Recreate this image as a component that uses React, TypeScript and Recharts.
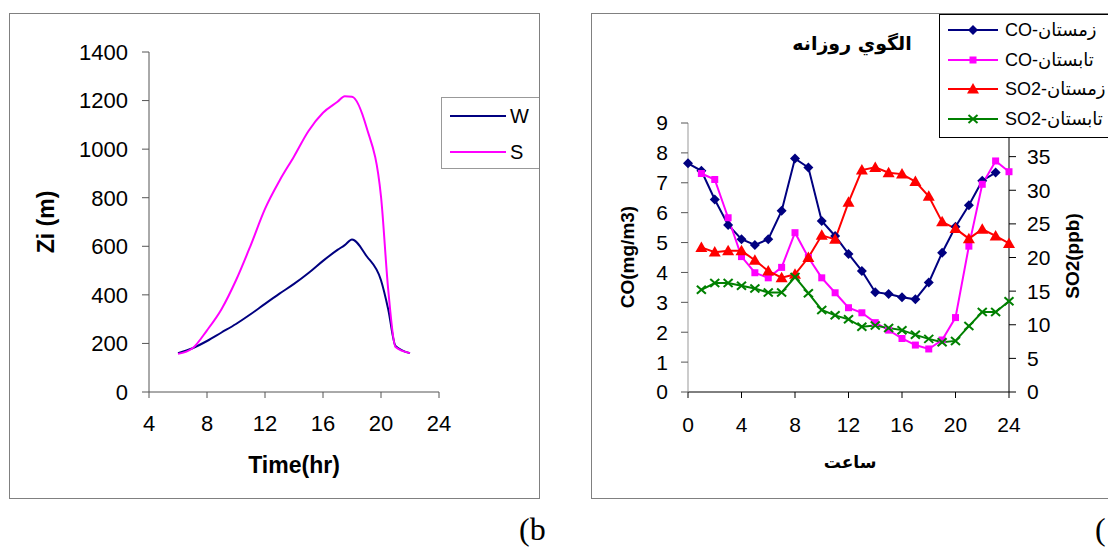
import React from 'react';
import { LineChart, Line, XAxis, YAxis, Legend } from 'recharts';

const FONT = '"Liberation Sans", Arial, "DejaVu Sans", sans-serif';
const NAVY = '#000080';
const MAGENTA = '#FF00FF';
const RED = '#FF0000';
const GREEN = '#008000';

// (b) mixing height Zi, winter vs summer
const ziHours = [6, 7, 8, 9, 10, 11, 12, 13, 14, 15, 16, 17, 17.5, 18, 19, 20, 20.5, 21, 22];
const ziWinter = [160, 180, 210, 245, 280, 320, 363, 405, 445, 490, 540, 585, 605, 628, 560, 460, 340, 190, 160];
const ziSummer = [157, 180, 254, 341, 460, 602, 754, 870, 970, 1075, 1150, 1195, 1218, 1216, 1090, 805, 420, 185, 160];
const ziNames = ['W', 'S'];
const ziTicksX = [4, 8, 12, 16, 20, 24];
const ziTicksY = [0, 200, 400, 600, 800, 1000, 1200, 1400];

// daily pattern of CO and SO2
const hours = [0, 1, 2, 3, 4, 5, 6, 7, 8, 9, 10, 11, 12, 13, 14, 15, 16, 17, 18, 19, 20, 21, 22, 23, 24];
const coWinter = [7.65, 7.4, 6.44, 5.59, 5.11, 4.92, 5.11, 6.06, 7.81, 7.51, 5.72, 5.22, 4.62, 4.05, 3.34, 3.28, 3.17, 3.1, 3.66, 4.66, 5.53, 6.25, 7.07, 7.34, null];
const coSummer = [null, 7.31, 7.11, 5.83, 4.53, 3.99, 3.82, 4.17, 5.33, 4.5, 3.82, 3.32, 2.82, 2.65, 2.32, 2.07, 1.79, 1.57, 1.44, 1.74, 2.49, 4.88, 6.95, 7.73, 7.37];
const so2Winter = [null, 21.5, 20.8, 21.0, 21.0, 19.6, 18.0, 17.0, 17.5, 20.0, 23.3, 22.7, 28.2, 33.0, 33.4, 32.6, 32.4, 31.3, 29.1, 25.3, 24.3, 22.8, 24.2, 23.2, 22.1];
const so2Summer = [null, 15.2, 16.2, 16.2, 15.8, 15.4, 14.8, 14.8, 17.1, 14.7, 12.2, 11.4, 10.8, 9.7, 9.9, 9.5, 9.2, 8.5, 7.9, 7.4, 7.6, 9.8, 11.9, 11.9, 13.5];
const dailyNames = ['CO-زمستان', 'CO-تابستان', 'SO2-زمستان', 'SO2-تابستان'];
const hourTicks = [0, 4, 8, 12, 16, 20, 24];
const coTicks = [0, 1, 2, 3, 4, 5, 6, 7, 8, 9];
const so2Ticks = [0, 5, 10, 15, 20, 25, 30, 35];

const ziData = ziHours.map((h, i) => ({ h, w: ziWinter[i], s: ziSummer[i] }));
const dailyData = hours.map((h, i) => ({
  h,
  coW: coWinter[i],
  coS: coSummer[i],
  so2W: so2Winter[i],
  so2S: so2Summer[i],
}));

const ziSeries = [
  { key: 'w', name: ziNames[0], color: NAVY },
  { key: 's', name: ziNames[1], color: MAGENTA },
];

const dailySeries = [
  { key: 'coW', axis: 'co', name: dailyNames[0], color: NAVY, shape: 'diamond' },
  { key: 'coS', axis: 'co', name: dailyNames[1], color: MAGENTA, shape: 'square' },
  { key: 'so2W', axis: 'so2', name: dailyNames[2], color: RED, shape: 'triangle' },
  { key: 'so2S', axis: 'so2', name: dailyNames[3], color: GREEN, shape: 'cross' },
];

function Marker({ cx, cy, shape, color }: any) {
  if (cx == null || cy == null || Number.isNaN(cx) || Number.isNaN(cy)) return <g />;
  if (shape === 'diamond') {
    return <polygon points={`${cx},${cy - 5} ${cx + 5},${cy} ${cx},${cy + 5} ${cx - 5},${cy}`} fill={color} />;
  }
  if (shape === 'square') {
    return <rect x={cx - 3.5} y={cy - 3.5} width={7} height={7} fill={color} />;
  }
  if (shape === 'triangle') {
    return <polygon points={`${cx},${cy - 6} ${cx + 6},${cy + 4.5} ${cx - 6},${cy + 4.5}`} fill={color} />;
  }
  return (
    <g stroke={color} strokeWidth={2}>
      <line x1={cx - 4.5} y1={cy - 4} x2={cx + 4.5} y2={cy + 4} />
      <line x1={cx - 4.5} y1={cy + 4} x2={cx + 4.5} y2={cy - 4} />
    </g>
  );
}

function AxisTitle({ px, py, rot = 0, title, size = 20 }: any) {
  return (
    <text
      x={px}
      y={py}
      transform={rot ? `rotate(${rot} ${px} ${py})` : undefined}
      textAnchor="middle"
      dominantBaseline="central"
      fontSize={size}
      fontWeight="bold"
      fontFamily={FONT}
      fill="#000"
    >
      {title}
    </text>
  );
}

function ZiLegend() {
  return (
    <div style={{ width: 110, height: 72, border: '1px solid #999', boxSizing: 'border-box', fontFamily: FONT }}>
      {ziSeries.map((s) => (
        <div key={s.key} style={{ display: 'flex', alignItems: 'center', height: 36 }}>
          <svg width={66} height={10}>
            <line x1={8} x2={64} y1={5} y2={5} stroke={s.color} strokeWidth={2} />
          </svg>
          <span style={{ fontSize: 20, marginLeft: 2, lineHeight: 1 }}>{s.name}</span>
        </div>
      ))}
    </div>
  );
}

function DailyLegend() {
  return (
    <div
      style={{
        width: 200,
        border: '1px solid #000',
        boxSizing: 'border-box',
        background: '#fff',
        padding: '0 0 3px 0',
        fontFamily: FONT,
      }}
    >
      {dailySeries.map((s) => (
        <div key={s.key} style={{ display: 'flex', alignItems: 'center', height: 29.7 }}>
          <svg width={62} height={16}>
            <line x1={8} x2={58} y1={8} y2={8} stroke={s.color} strokeWidth={2} />
            <Marker cx={33} cy={8} shape={s.shape} color={s.color} />
          </svg>
          <span style={{ fontSize: 18, marginLeft: 3, lineHeight: 1, whiteSpace: 'nowrap' }}>{s.name}</span>
        </div>
      ))}
    </div>
  );
}

function MixingHeightChart() {
  const axisColor = '#555';
  return (
    <LineChart width={529} height={484} data={ziData} margin={{ top: 38, right: 100, bottom: 76, left: 0 }}>
      <XAxis
        dataKey="h"
        type="number"
        domain={[4, 24]}
        ticks={ziTicksX}
        interval={0}
        height={30}
        tickSize={6}
        tickMargin={17}
        axisLine={{ stroke: axisColor }}
        tickLine={{ stroke: axisColor }}
        tick={{ fill: '#000', fontSize: 22, fontFamily: FONT }}
        label={<AxisTitle px={284} py={451} title="Time(hr)" size={23} />}
      />
      <YAxis
        type="number"
        domain={[0, 1400]}
        ticks={ziTicksY}
        interval={0}
        width={139}
        tickSize={7}
        tickMargin={14}
        axisLine={{ stroke: axisColor }}
        tickLine={{ stroke: axisColor }}
        tick={{ fill: '#000', fontSize: 22, fontFamily: FONT }}
        label={<AxisTitle px={36} py={208} rot={-90} title="Zi (m)" size={23} />}
      />
      {ziSeries.map((s) => (
        <Line
          key={s.key}
          dataKey={s.key}
          name={s.name}
          type="monotone"
          stroke={s.color}
          strokeWidth={2}
          dot={false}
          isAnimationActive={false}
        />
      ))}
      <Legend
        layout="horizontal"
        verticalAlign="middle"
        align="center"
        content={<ZiLegend />}
        wrapperStyle={{ left: 431, top: 83, width: 110 }}
      />
    </LineChart>
  );
}

function DailyPatternChart() {
  return (
    <LineChart width={538} height={484} data={dailyData} margin={{ top: 109, right: 61, bottom: 76, left: 0 }}>
      <XAxis
        dataKey="h"
        type="number"
        domain={[0, 24]}
        ticks={hourTicks}
        interval={0}
        height={30}
        tickSize={6}
        tickMargin={19}
        axisLine={{ stroke: '#000' }}
        tickLine={{ stroke: '#000' }}
        tick={{ fill: '#000', fontSize: 21, fontFamily: FONT }}
        label={<AxisTitle px={258} py={448} title="ساعت" size={17} />}
      />
      <YAxis
        yAxisId="co"
        type="number"
        domain={[0, 9]}
        ticks={coTicks}
        interval={0}
        width={96}
        tickSize={7}
        tickMargin={13}
        axisLine={{ stroke: '#999' }}
        tickLine={{ stroke: '#555' }}
        tick={{ fill: '#000', fontSize: 21, fontFamily: FONT }}
        label={<AxisTitle px={35} py={243} rot={-90} title="CO(mg/m3)" size={19} />}
      />
      <YAxis
        yAxisId="so2"
        orientation="right"
        type="number"
        domain={[0, 40]}
        ticks={so2Ticks}
        interval={0}
        width={60}
        tickSize={7}
        tickMargin={11}
        axisLine={{ stroke: '#000' }}
        tickLine={{ stroke: '#000' }}
        tick={{ fill: '#000', fontSize: 21, fontFamily: FONT }}
        label={<AxisTitle px={480} py={242} rot={-90} title="SO2(ppb)" size={19} />}
      />
      {dailySeries.map((s) => (
        <Line
          key={s.key}
          yAxisId={s.axis}
          dataKey={s.key}
          name={s.name}
          type="linear"
          stroke={s.color}
          strokeWidth={2}
          isAnimationActive={false}
          dot={(p: any) => {
            const { key, ...rest } = p;
            return <Marker key={`${s.key}-${p.index}`} {...rest} shape={s.shape} color={s.color} />;
          }}
          activeDot={false}
        />
      ))}
      <Legend
        layout="horizontal"
        verticalAlign="middle"
        align="center"
        content={<DailyLegend />}
        wrapperStyle={{ left: 347, top: 0, width: 200 }}
      />
    </LineChart>
  );
}

export default function App() {
  return (
    <div
      style={{
        position: 'absolute',
        left: 0,
        top: 0,
        width: 1108,
        height: 548,
        overflow: 'hidden',
        background: '#fff',
        fontFamily: FONT,
      }}
    >
      <div
        style={{
          position: 'absolute',
          left: 9,
          top: 13,
          width: 531,
          height: 486,
          border: '1px solid #808080',
          boxSizing: 'border-box',
          overflow: 'hidden',
        }}
      >
        <MixingHeightChart />
      </div>
      <div
        style={{
          position: 'absolute',
          left: 591,
          top: 13,
          width: 540,
          height: 486,
          border: '1px solid #808080',
          boxSizing: 'border-box',
          overflow: 'hidden',
        }}
      >
        <DailyPatternChart />
        <div
          style={{
            position: 'absolute',
            left: 180,
            top: 18,
            width: 160,
            textAlign: 'center',
            fontSize: 19,
            fontWeight: 'bold',
            fontFamily: '"DejaVu Sans", sans-serif',
            direction: 'rtl',
            whiteSpace: 'nowrap',
          }}
        >
          الگوي روزانه
        </div>
      </div>
      <div style={{ position: 'absolute', left: 519, top: 513, fontSize: 32, lineHeight: 1, fontFamily: '"Liberation Serif", serif' }}>
        (b
      </div>
      <div style={{ position: 'absolute', left: 1095, top: 513, fontSize: 32, lineHeight: 1, fontFamily: '"Liberation Serif", serif' }}>
        (
      </div>
    </div>
  );
}
